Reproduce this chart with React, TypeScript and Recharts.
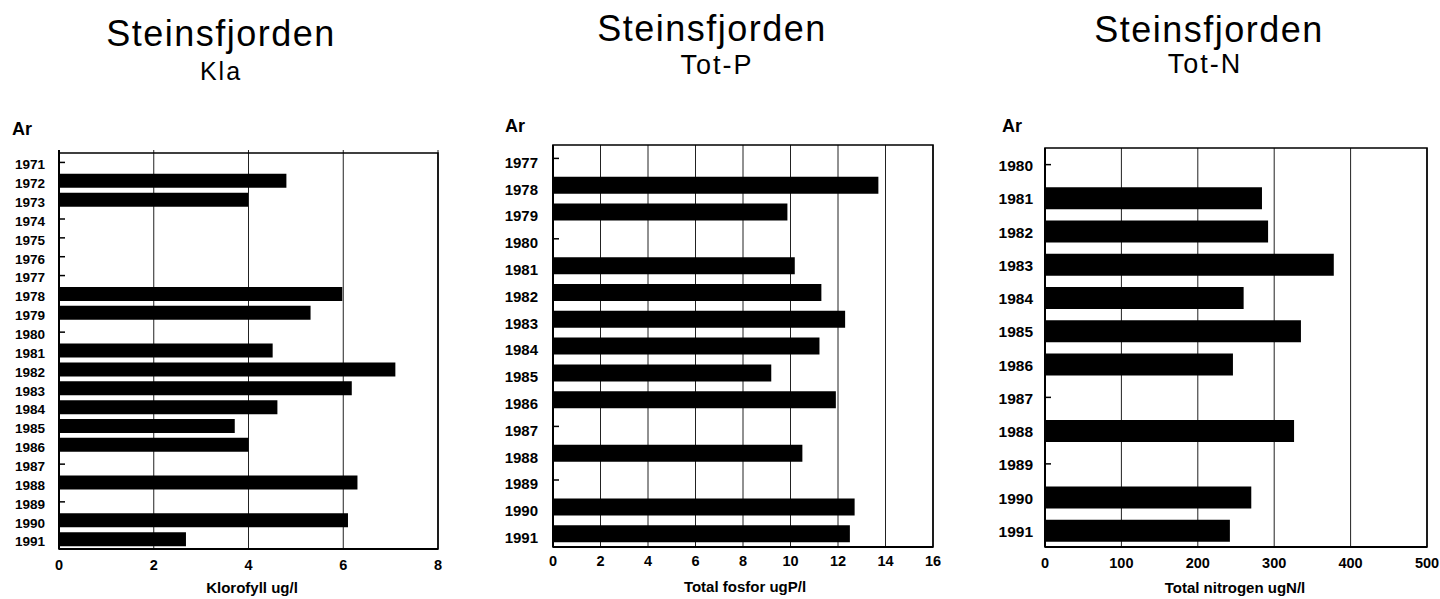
import React from "react";
import {
  BarChart,
  Bar,
  XAxis,
  YAxis,
  CartesianGrid,
  ReferenceArea,
} from "recharts";

// Kla (klorofyll ug/l), 1971-1991
const klaYears = [
  "1971", "1972", "1973", "1974", "1975", "1976", "1977", "1978", "1979", "1980",
  "1981", "1982", "1983", "1984", "1985", "1986", "1987", "1988", "1989", "1990", "1991",
];
const klaValues = [
  null, 4.8, 3.99, null, null, null, null, 5.98, 5.31, null,
  4.51, 7.1, 6.18, 4.61, 3.71, 4.0, null, 6.3, null, 6.1, 2.68,
];
const klaTicks = [0, 2, 4, 6, 8];

// Tot-P (ugP/l), 1977-1991
const totPYears = [
  "1977", "1978", "1979", "1980", "1981", "1982", "1983", "1984",
  "1985", "1986", "1987", "1988", "1989", "1990", "1991",
];
const totPValues = [
  null, 13.7, 9.87, null, 10.18, 11.3, 12.3, 11.22,
  9.19, 11.91, null, 10.5, null, 12.7, 12.5,
];
const totPTicks = [0, 2, 4, 6, 8, 10, 12, 14, 16];

// Tot-N (ugN/l), 1980-1991
const totNYears = [
  "1980", "1981", "1982", "1983", "1984", "1985",
  "1986", "1987", "1988", "1989", "1990", "1991",
];
const totNValues = [null, 284, 292, 378, 260, 335, 246, null, 326, null, 270, 242];
const totNTicks = [0, 100, 200, 300, 400, 500];

const FONT = '"Liberation Sans", Arial, Helvetica, sans-serif';

const Txt = ({ x, baseline, size, bold = false, center = true, spacing = 0, children }) => (
  <div
    style={{
      position: "absolute",
      left: x,
      top: baseline - size * 0.85,
      transform: center ? "translateX(-50%)" : undefined,
      fontFamily: FONT,
      fontSize: size,
      fontWeight: bold ? 700 : 400,
      letterSpacing: spacing,
      lineHeight: `${size}px`,
      whiteSpace: "nowrap",
      color: "#000",
    }}
  >
    {children}
  </div>
);

const YearTick = ({ x, y, payload, gap, fontSize, shift }) => (
  <g>
    <line x1={x + gap} x2={x + gap + 6} y1={y} y2={y} stroke="#000" strokeWidth={1.5} />
    <text
      x={x}
      y={y}
      dy={fontSize * 0.36 + shift}
      textAnchor="end"
      fontFamily={FONT}
      fontWeight={700}
      fontSize={fontSize}
      fill="#000"
    >
      {payload.value}
    </text>
  </g>
);

const Panel = ({
  left, width, years, values, max, ticks, margin, barSize,
  yFont, yGap, labelShift, xMargin, padTop = 0,
}) => {
  const data = years.map((year, i) => ({ year, value: values[i] }));
  return (
    <div style={{ position: "absolute", left, top: 0 }}>
      <BarChart
        width={width}
        height={599}
        data={data}
        layout="vertical"
        margin={margin}
      >
        <CartesianGrid horizontal={false} stroke="#222" strokeWidth={1} />
        <XAxis
          type="number"
          dataKey="value"
          domain={[0, max]}
          ticks={ticks}
          interval={0}
          height={30}
          tickLine={false}
          tickSize={0}
          tickMargin={xMargin}
          axisLine={{ stroke: "#000", strokeWidth: 2 }}
          tick={{ fill: "#000", fontFamily: FONT, fontWeight: 700, fontSize: 14.5 }}
        />
        <YAxis
          type="category"
          dataKey="year"
          width={50}
          interval={0}
          padding={{ top: padTop, bottom: 0 }}
          tickLine={false}
          tickSize={0}
          tickMargin={yGap}
          axisLine={{ stroke: "#000", strokeWidth: 2 }}
          tick={(p) => <YearTick {...p} gap={yGap} fontSize={yFont} shift={labelShift} />}
        />
        <ReferenceArea
          x1={0}
          x2={max}
          fill="none"
          fillOpacity={0}
          stroke="#000"
          strokeWidth={1.6}
          ifOverflow="visible"
        />
        <Bar dataKey="value" fill="#000" barSize={barSize} isAnimationActive={false} />
      </BarChart>
    </div>
  );
};

export default function App() {
  return (
    <div
      style={{
        position: "absolute",
        left: 0,
        top: 0,
        width: 1440,
        height: 599,
        background: "#fff",
        overflow: "hidden",
      }}
    >
      <Panel
        left={0}
        width={470}
        years={klaYears}
        values={klaValues}
        max={8}
        ticks={klaTicks}
        margin={{ top: 150, right: 32, bottom: 20, left: 9 }}
        barSize={14}
        yFont={13.5}
        yGap={14}
        labelShift={2}
        xMargin={11}
        padTop={3}
      />
      <Panel
        left={490}
        width={470}
        years={totPYears}
        values={totPValues}
        max={16}
        ticks={totPTicks}
        margin={{ top: 145, right: 27, bottom: 22, left: 13 }}
        barSize={17}
        yFont={15}
        yGap={15}
        labelShift={4}
        xMargin={9}
      />
      <Panel
        left={980}
        width={460}
        years={totNYears}
        values={totNValues}
        max={500}
        ticks={totNTicks}
        margin={{ top: 148, right: 13, bottom: 22, left: 15 }}
        barSize={22}
        yFont={15.5}
        yGap={12}
        labelShift={1}
        xMargin={11}
      />

      <Txt x={221} baseline={47} size={36} spacing={1.5}>Steinsfjorden</Txt>
      <Txt x={221} baseline={80} size={25} spacing={2}>Kla</Txt>
      <Txt x={12} baseline={135} size={18} bold center={false}>Ar</Txt>
      <Txt x={252} baseline={593} size={15} bold>Klorofyll ug/l</Txt>

      <Txt x={712} baseline={42} size={36} spacing={1.5}>Steinsfjorden</Txt>
      <Txt x={717} baseline={75} size={27} spacing={2}>Tot-P</Txt>
      <Txt x={505} baseline={132} size={18} bold center={false}>Ar</Txt>
      <Txt x={745} baseline={592} size={15} bold>Total fosfor ugP/l</Txt>

      <Txt x={1209} baseline={43} size={36} spacing={1.5}>Steinsfjorden</Txt>
      <Txt x={1205} baseline={74} size={27} spacing={2}>Tot-N</Txt>
      <Txt x={1002} baseline={132} size={18} bold center={false}>Ar</Txt>
      <Txt x={1235} baseline={593} size={15} bold>Total nitrogen ugN/l</Txt>
    </div>
  );
}
